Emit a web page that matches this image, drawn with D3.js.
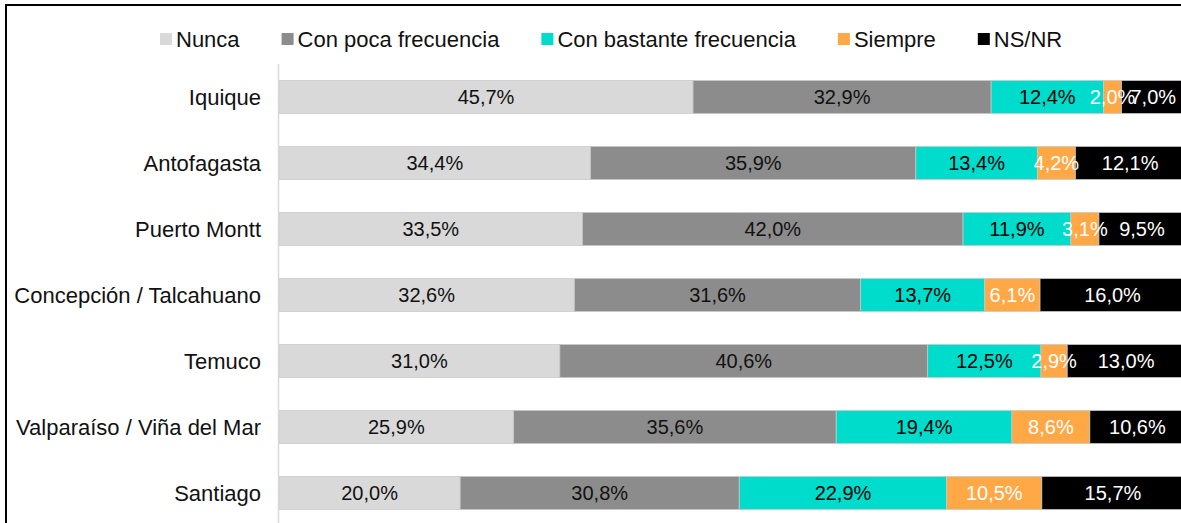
<!DOCTYPE html>
<html>
<head>
<meta charset="utf-8">
<script src="https://cdn.jsdelivr.net/npm/d3@7"></script>
<style>
  body { margin: 0; background: #fff; }
  svg { display: block; font-family: Arial, "Liberation Sans", sans-serif; }
</style>
</head>
<body>
<svg id="chart"></svg>
<script>
// categories (top to bottom)
const cities = ['Iquique', 'Antofagasta', 'Puerto Montt', 'Concepción / Talcahuano',
  'Temuco', 'Valparaíso / Viña del Mar', 'Santiago'];

const seriesNames = ['Nunca', 'Con poca frecuencia', 'Con bastante frecuencia', 'Siempre', 'NS/NR'];

// percentages per series, in city order
const nunca     = [45.7, 34.4, 33.5, 32.6, 31.0, 25.9, 20.0];
const conPoca   = [32.9, 35.9, 42.0, 31.6, 40.6, 35.6, 30.8];
const bastante  = [12.4, 13.4, 11.9, 13.7, 12.5, 19.4, 22.9];
const siempre   = [2.0, 4.2, 3.1, 6.1, 2.9, 8.6, 10.5];
const nsnr      = [7.0, 12.1, 9.5, 16.0, 13.0, 10.6, 15.7];

const colors = ['#d9d9d9', '#8c8c8c', '#00dccc', '#ffa845', '#000000'];
const labelColors = ['#111', '#111', '#000', '#fff', '#fff'];

const width = 1181, height = 523;
const svg = d3.select('#chart').attr('width', width).attr('height', height);

// build table for stack
const keys = ['nunca', 'conPoca', 'bastante', 'siempre', 'nsnr'];
const cols = [nunca, conPoca, bastante, siempre, nsnr];
const table = cities.map((c, i) => {
  const row = {city: c};
  keys.forEach((k, j) => row[k] = cols[j][i]);
  return row;
});
const stacked = d3.stack().keys(keys)(table);

const x = d3.scaleLinear().domain([0, 100]).range([279, 1185]);
const y = d3.scaleBand().domain(cities).range([64, 526]).paddingInner(0.5).paddingOuter(0.25);

// border
svg.append('rect')
  .attr('x', 6).attr('y', 5)
  .attr('width', width + 10).attr('height', height + 10)
  .attr('fill', 'none').attr('stroke', '#000').attr('stroke-width', 2);

// bars
const layers = svg.append('g').selectAll('g')
  .data(stacked)
  .join('g')
  .attr('fill', (d, i) => colors[i]);

layers.selectAll('rect')
  .data(d => d)
  .join('rect')
  .attr('x', d => x(d[0]))
  .attr('y', d => y(d.data.city))
  .attr('width', d => x(d[1]) - x(d[0]))
  .attr('height', y.bandwidth())
  .attr('stroke', '#c8c8c8')
  .attr('stroke-width', 0.75);

// vertical axis line
svg.append('line')
  .attr('x1', 278.5).attr('x2', 278.5)
  .attr('y1', 64).attr('y2', 526)
  .attr('stroke', '#d9d9d9').attr('stroke-width', 1.5);

// data labels
stacked.forEach((layer, i) => {
  svg.append('g').selectAll('text')
    .data(layer)
    .join('text')
    .attr('x', d => (x(d[0]) + Math.min(x(d[1]), 1185)) / 2)
    .attr('y', d => y(d.data.city) + y.bandwidth() / 2)
    .attr('dy', '0.36em')
    .attr('text-anchor', 'middle')
    .attr('font-size', 20)
    .attr('fill', labelColors[i])
    .text(d => (d[1] - d[0]).toFixed(1).replace('.', ',') + '%');
});

// category labels
svg.append('g').selectAll('text')
  .data(cities)
  .join('text')
  .attr('x', 261)
  .attr('y', d => y(d) + y.bandwidth() / 2)
  .attr('dy', '0.36em')
  .attr('text-anchor', 'end')
  .attr('font-size', 22)
  .attr('fill', '#111')
  .text(d => d);

// legend
const legend = svg.append('g');
let lx = 160;
seriesNames.forEach((name, i) => {
  const g = legend.append('g').attr('transform', `translate(${lx},0)`);
  g.append('rect').attr('x', 0).attr('y', 33).attr('width', 12).attr('height', 12).attr('fill', colors[i]);
  const t = g.append('text')
    .attr('x', 16).attr('y', 39).attr('dy', '0.36em')
    .attr('font-size', 22).attr('fill', '#111')
    .text(name);
  lx += 16 + t.node().getComputedTextLength() + 42;
});
</script>
</body>
</html>
